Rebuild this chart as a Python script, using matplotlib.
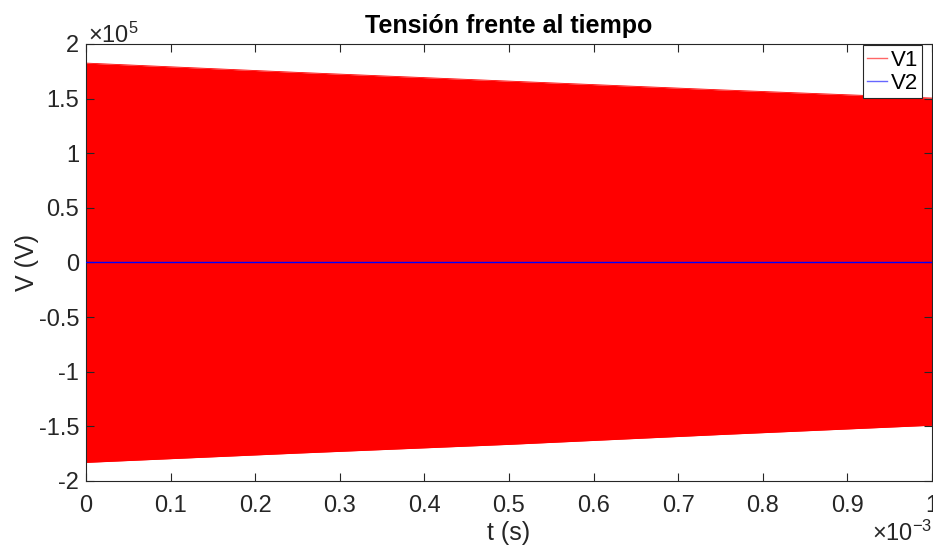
import numpy as np
import matplotlib.pyplot as plt
from matplotlib.ticker import FuncFormatter, MultipleLocator

plt.rcParams['font.family'] = ['Liberation Sans', 'DejaVu Sans']
plt.rcParams['mathtext.fontset'] = 'custom'
plt.rcParams['mathtext.rm'] = 'Liberation Sans'
plt.rcParams['mathtext.it'] = 'Liberation Sans'

# envolvente de V1 (s, V)
t_env = [0.0, 0.25e-3, 0.5e-3, 0.75e-3, 1.0e-3]
v1_sup = [1.825e5, 1.74e5, 1.66e5, 1.58e5, 1.505e5]
v1_inf = [-1.83e5, -1.745e5, -1.665e5, -1.575e5, -1.49e5]

# V2 practicamente nula
t_v2 = [0.0, 1.0e-3]
v2 = [0.0, 0.0]

gris = '#262626'

fig = plt.figure(figsize=(9.33, 5.47), dpi=100)
ax = fig.add_axes([0.0922, 0.1207, 0.9067, 0.7989])

ax.fill_between(t_env, v1_inf, v1_sup, color='#ff0000', lw=0, zorder=1)
ax.plot(t_env, v1_sup, color='#ff0000', lw=0.6, zorder=2)
ax.plot(t_env, v1_inf, color='#ff0000', lw=0.6, zorder=2)
ax.plot(t_v2, v2, color='#0000ff', lw=1.0, zorder=3)

# lineas de la leyenda
ax.plot([], [], color='#ff0000', lw=1.0, alpha=0.6, label='V1')
ax.plot([], [], color='#0000ff', lw=1.0, alpha=0.6, label='V2')

ax.set_xlim(0, 1e-3)
ax.set_ylim(-2e5, 2e5)
ax.xaxis.set_major_locator(MultipleLocator(1e-4))
ax.yaxis.set_major_locator(MultipleLocator(0.5e5))
ax.xaxis.set_major_formatter(FuncFormatter(lambda v, p: '%g' % round(v * 1e3, 6)))
ax.yaxis.set_major_formatter(FuncFormatter(lambda v, p: '%g' % round(v / 1e5, 6)))

ax.tick_params(direction='in', length=6, width=0.8, colors=gris,
               labelsize=17, top=True, right=True)
ax.tick_params(axis='x', pad=10)
ax.tick_params(axis='y', pad=5)
for s in ax.spines.values():
    s.set_color(gris)
    s.set_linewidth(0.8)

ax.text(0.002, 0.99, r'$\times 10^{5}$', transform=ax.transAxes, fontsize=17,
        color=gris, ha='left', va='bottom')
fig.text(0.999, 0.002, r'$\times 10^{-3}$', fontsize=17, color=gris,
         ha='right', va='bottom')

ax.set_title('Tensión frente al tiempo', fontsize=18, fontweight='bold', pad=8)
ax.set_xlabel('t (s)', fontsize=18, color=gris, labelpad=3)
ax.set_ylabel('V (V)', fontsize=18, color=gris, labelpad=0)

leg = ax.legend(loc='upper right', bbox_to_anchor=(0.99, 1.0), fontsize=16,
                fancybox=False, framealpha=1, edgecolor=gris, handlelength=0.9,
                handletextpad=0.15, borderpad=0.2, labelspacing=0.1,
                borderaxespad=0.05)
leg.get_frame().set_linewidth(0.8)

fig.savefig('out.png', dpi=100)
